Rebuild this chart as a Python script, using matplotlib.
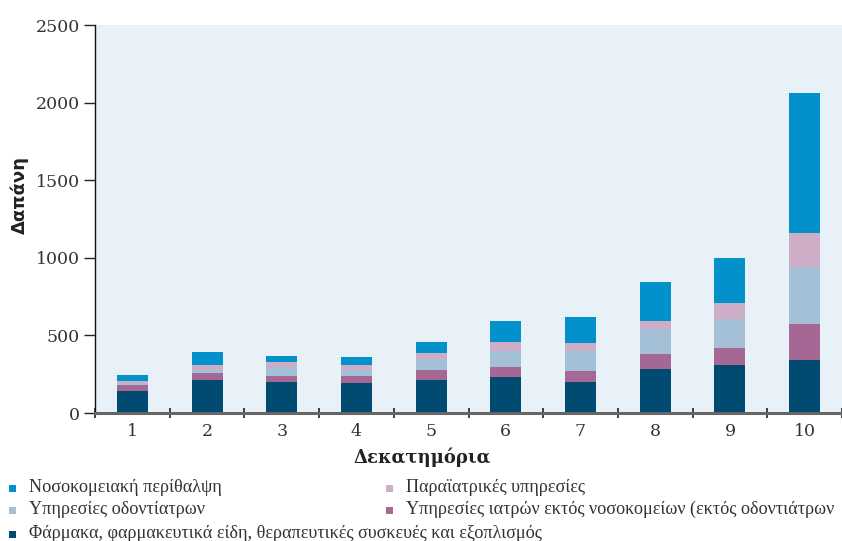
import matplotlib
matplotlib.use("Agg")
import matplotlib.pyplot as plt
from matplotlib.patches import Rectangle
import numpy as np

deciles = [1, 2, 3, 4, 5, 6, 7, 8, 9, 10]
pharma = [142, 213, 200, 194, 213, 232, 200, 284, 310, 342]
doctors = [38, 45, 39, 45, 64, 65, 71, 97, 109, 232]
dentists = [13, 22, 58, 38, 71, 103, 129, 161, 187, 368]
paramedical = [13, 30, 32, 33, 39, 58, 52, 52, 104, 219]
hospital = [39, 84, 39, 51, 71, 136, 167, 251, 290, 904]

labels = {
    "hospital": "Νοσοκομειακή περίθαλψη",
    "paramedical": "Παραϊατρικές υπηρεσίες",
    "dentists": "Υπηρεσίες οδοντίατρων",
    "doctors": "Υπηρεσίες ιατρών εκτός νοσοκομείων (εκτός οδοντιάτρων",
    "pharma": "Φάρμακα, φαρμακευτικά είδη, θεραπευτικές συσκευές και εξοπλισμός",
}
colors = {
    "pharma": "#014B72",
    "doctors": "#A56894",
    "dentists": "#A3C0D6",
    "paramedical": "#CEAEC7",
    "hospital": "#0291CB",
}
series = [("pharma", pharma), ("doctors", doctors), ("dentists", dentists),
          ("paramedical", paramedical), ("hospital", hospital)]

W, H = 842, 541
fig = plt.figure(figsize=(W / 100, H / 100), dpi=100)
ax = fig.add_axes([95 / W, 1 - 413 / H, (W - 95) / W, (413 - 25) / H])
ax.set_facecolor("#E9F1F8")

x = np.array(deciles)
bottom = np.zeros(len(x))
for key, vals in series:
    ax.bar(x, vals, bottom=bottom, width=0.415, color=colors[key], linewidth=0, zorder=2)
    bottom += np.array(vals)

ax.set_xlim(0.5, 10.5)
ax.set_ylim(0, 2500)
ax.set_yticks([0, 500, 1000, 1500, 2000, 2500])
ax.set_xticks(x)
ax.set_xticks(np.arange(0.5, 11.0, 1.0), minor=True)
ax.tick_params(axis="x", which="major", length=0, pad=7)
ax.tick_params(axis="x", which="minor", length=7, width=1.2, color="#222222", direction="inout")
ax.tick_params(axis="y", length=8, width=1.0, color="#222222", pad=3)
for lab in ax.get_xticklabels() + ax.get_yticklabels():
    lab.set_fontfamily("DejaVu Serif")
    lab.set_fontsize(12.5)
    lab.set_color("#333333")

for s in ["top", "right"]:
    ax.spines[s].set_visible(False)
ax.spines["left"].set_color("#111111")
ax.spines["left"].set_linewidth(1.0)
ax.spines["bottom"].set_color("#666666")
ax.spines["bottom"].set_linewidth(2.2)

fig.text(20 / W, 1 - 195 / H, "Δαπάνη", rotation=90, ha="center", va="center",
         fontsize=13, fontweight="bold", family="DejaVu Sans", color="#222222")
fig.text(422 / W, 1 - 457 / H, "Δεκατημόρια", ha="center", va="center",
         fontsize=13, fontweight="bold", family="DejaVu Serif", color="#222222")

legend_items = [
    ("hospital", 12.5, 488.5),
    ("paramedical", 389.5, 488.5),
    ("dentists", 12.5, 510.5),
    ("doctors", 389.5, 510.5),
    ("pharma", 12.5, 534.5),
]
legfont = ["Liberation Serif", "DejaVu Serif"]
for key, px, py in legend_items:
    fig.patches.append(Rectangle(((px - 3.5) / W, 1 - (py + 3.5) / H), 7 / W, 7 / H,
                                 transform=fig.transFigure, color=colors[key], linewidth=0))
    fig.text((px + 16.5) / W, 1 - (py - 1) / H, labels[key], ha="left", va="center",
             fontsize=13.1, family=legfont, color="#333333")

fig.savefig("out.png", dpi=100)
